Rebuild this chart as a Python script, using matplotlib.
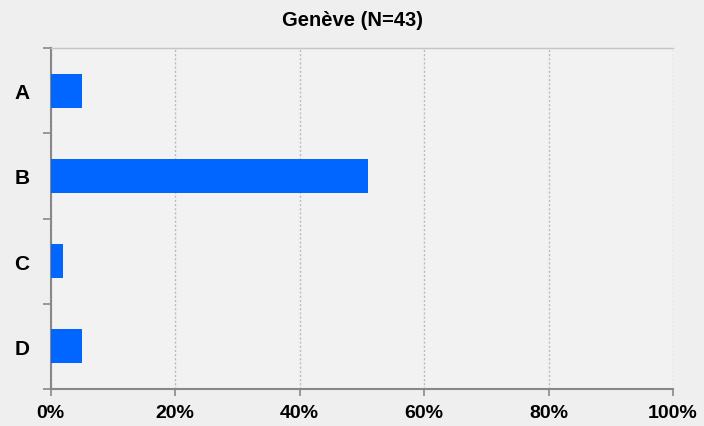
import matplotlib.pyplot as plt
import numpy as np

plt.rcParams['font.family'] = ['Liberation Sans', 'DejaVu Sans']

categories = ['A', 'B', 'C', 'D']
values = [5, 51, 2, 5]
xticks = [0, 20, 40, 60, 80, 100]
title = 'Genève (N=43)'

fig = plt.figure(figsize=(7.04, 4.27), dpi=100, facecolor='#efefef')
ax = fig.add_axes([50.5/704, 37/427, 622.5/704, 341/427])
ax.set_facecolor('#f2f2f2')

y = np.arange(len(categories))
ax.barh(y, values, height=0.4, color='#0066ff', zorder=3)

ax.set_ylim(len(categories) - 0.5, -0.5)
ax.set_xlim(0, 100)
ax.set_yticks(y)
ax.set_yticklabels(categories, fontsize=15, fontweight='bold')
ax.set_yticks(np.arange(len(categories) + 1) - 0.5, minor=True)
ax.tick_params(axis='y', which='major', length=0, pad=15)
ax.tick_params(axis='y', which='minor', length=6, color='#888888', width=1.2)

ax.set_xticks(xticks)
ax.set_xticklabels([f'{t}%' for t in xticks], fontsize=14, fontweight='bold')
ax.tick_params(axis='x', length=5, color='#888888', width=1.2, pad=6)
ax.grid(axis='x', color='#bbbbbb', linestyle=(0, (1.5, 1.5)), linewidth=1, zorder=0)

for s in ['left', 'bottom']:
    ax.spines[s].set_color('#888888')
    ax.spines[s].set_linewidth(1.5)
ax.spines['right'].set_visible(False)
ax.spines['top'].set_color('#c4c4c4')
ax.spines['top'].set_linewidth(1)

fig.text(0.5, 1 - 20/427, title, ha='center', va='center', fontsize=14.5, fontweight='bold')

fig.savefig('out.png', dpi=100, facecolor=fig.get_facecolor())
